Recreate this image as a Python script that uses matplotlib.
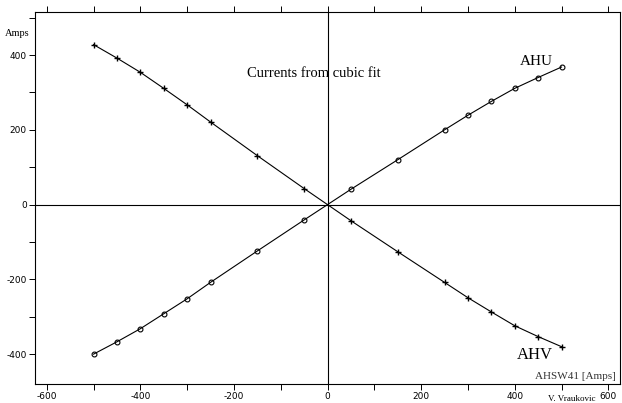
import numpy as np
import matplotlib.pyplot as plt
from matplotlib.ticker import MultipleLocator

plt.rcParams["axes.unicode_minus"] = False

# Switch setting (Amps) and phase currents
x_left = [-500, -450, -400, -350, -300, -250, -150, -50]
x_right = [50, 150, 250, 300, 350, 400, 450, 500]

ahu_left = [-400, -367, -332, -292, -252, -208, -124, -41]
ahu_right = [41, 120, 200, 239, 276, 311, 340, 368]

ahv_left = [428, 392, 354, 311, 267, 221, 131, 43]
ahv_right = [-43, -126, -208, -249, -287, -324, -353, -380]

x_ticks = [-600, -400, -200, 0, 200, 400, 600]
y_ticks = [-400, -200, 0, 200, 400]

x_all = np.array(x_left + [0] + x_right)
ahu = np.array(ahu_left + [0] + ahu_right)
ahv = np.array(ahv_left + [0] + ahv_right)
marks = [i for i in range(len(x_all)) if x_all[i] != 0]

fig = plt.figure(figsize=(6.22, 4.03), dpi=100)
ax = fig.add_axes([0.0563, 0.047, 0.9405, 0.923])

ax.axhline(0, color="black", lw=0.8, zorder=1)
ax.axvline(0, color="black", lw=0.8, zorder=1)

ax.plot(x_all, ahu, color="black", lw=0.8, marker="o", markersize=3.5,
        markerfacecolor="none", markeredgewidth=0.8, markevery=marks)
ax.plot(x_all, ahv, color="black", lw=0.8, marker="+", markersize=5,
        markeredgewidth=1.0, markevery=marks)

ax.set_xlim(-625, 625)
ax.set_ylim(-480, 515)
ax.set_xticks(x_ticks)
ax.set_yticks(y_ticks)
ax.xaxis.set_minor_locator(MultipleLocator(100))
ax.yaxis.set_minor_locator(MultipleLocator(100))
ax.tick_params(axis="both", which="both", direction="out", length=4,
               width=0.7, labelsize=6.5, colors="black", pad=2)
ax.tick_params(axis="x", which="both", top=True)
ax.tick_params(axis="y", which="both", right=False)

for side in ["top", "bottom"]:
    ax.spines[side].set_linestyle((0, (1, 1)))
    ax.spines[side].set_linewidth(0.8)
for side in ["left", "right"]:
    ax.spines[side].set_linewidth(0.8)

serif = "Liberation Serif"
ax.text(-171, 352, "Currents from cubic fit", family=serif, fontsize=10.5,
        ha="left", va="center")
ax.text(482, 384, "AHU", family=serif, fontsize=11, ha="right", va="center")
ax.text(482, -403, "AHV", family=serif, fontsize=12, ha="right", va="center")
ax.text(617, -460, "AHSW41 [Amps]", family=serif, fontsize=8, color="#333333",
        ha="right", va="center")
fig.text(0.008, 0.918, "Amps", family=serif, fontsize=7.5, ha="left", va="center")
fig.text(0.958, 0.001, "V. Vraukovic", family=serif, fontsize=6.5, ha="right",
         va="bottom")

fig.savefig("out.png", dpi=100)
